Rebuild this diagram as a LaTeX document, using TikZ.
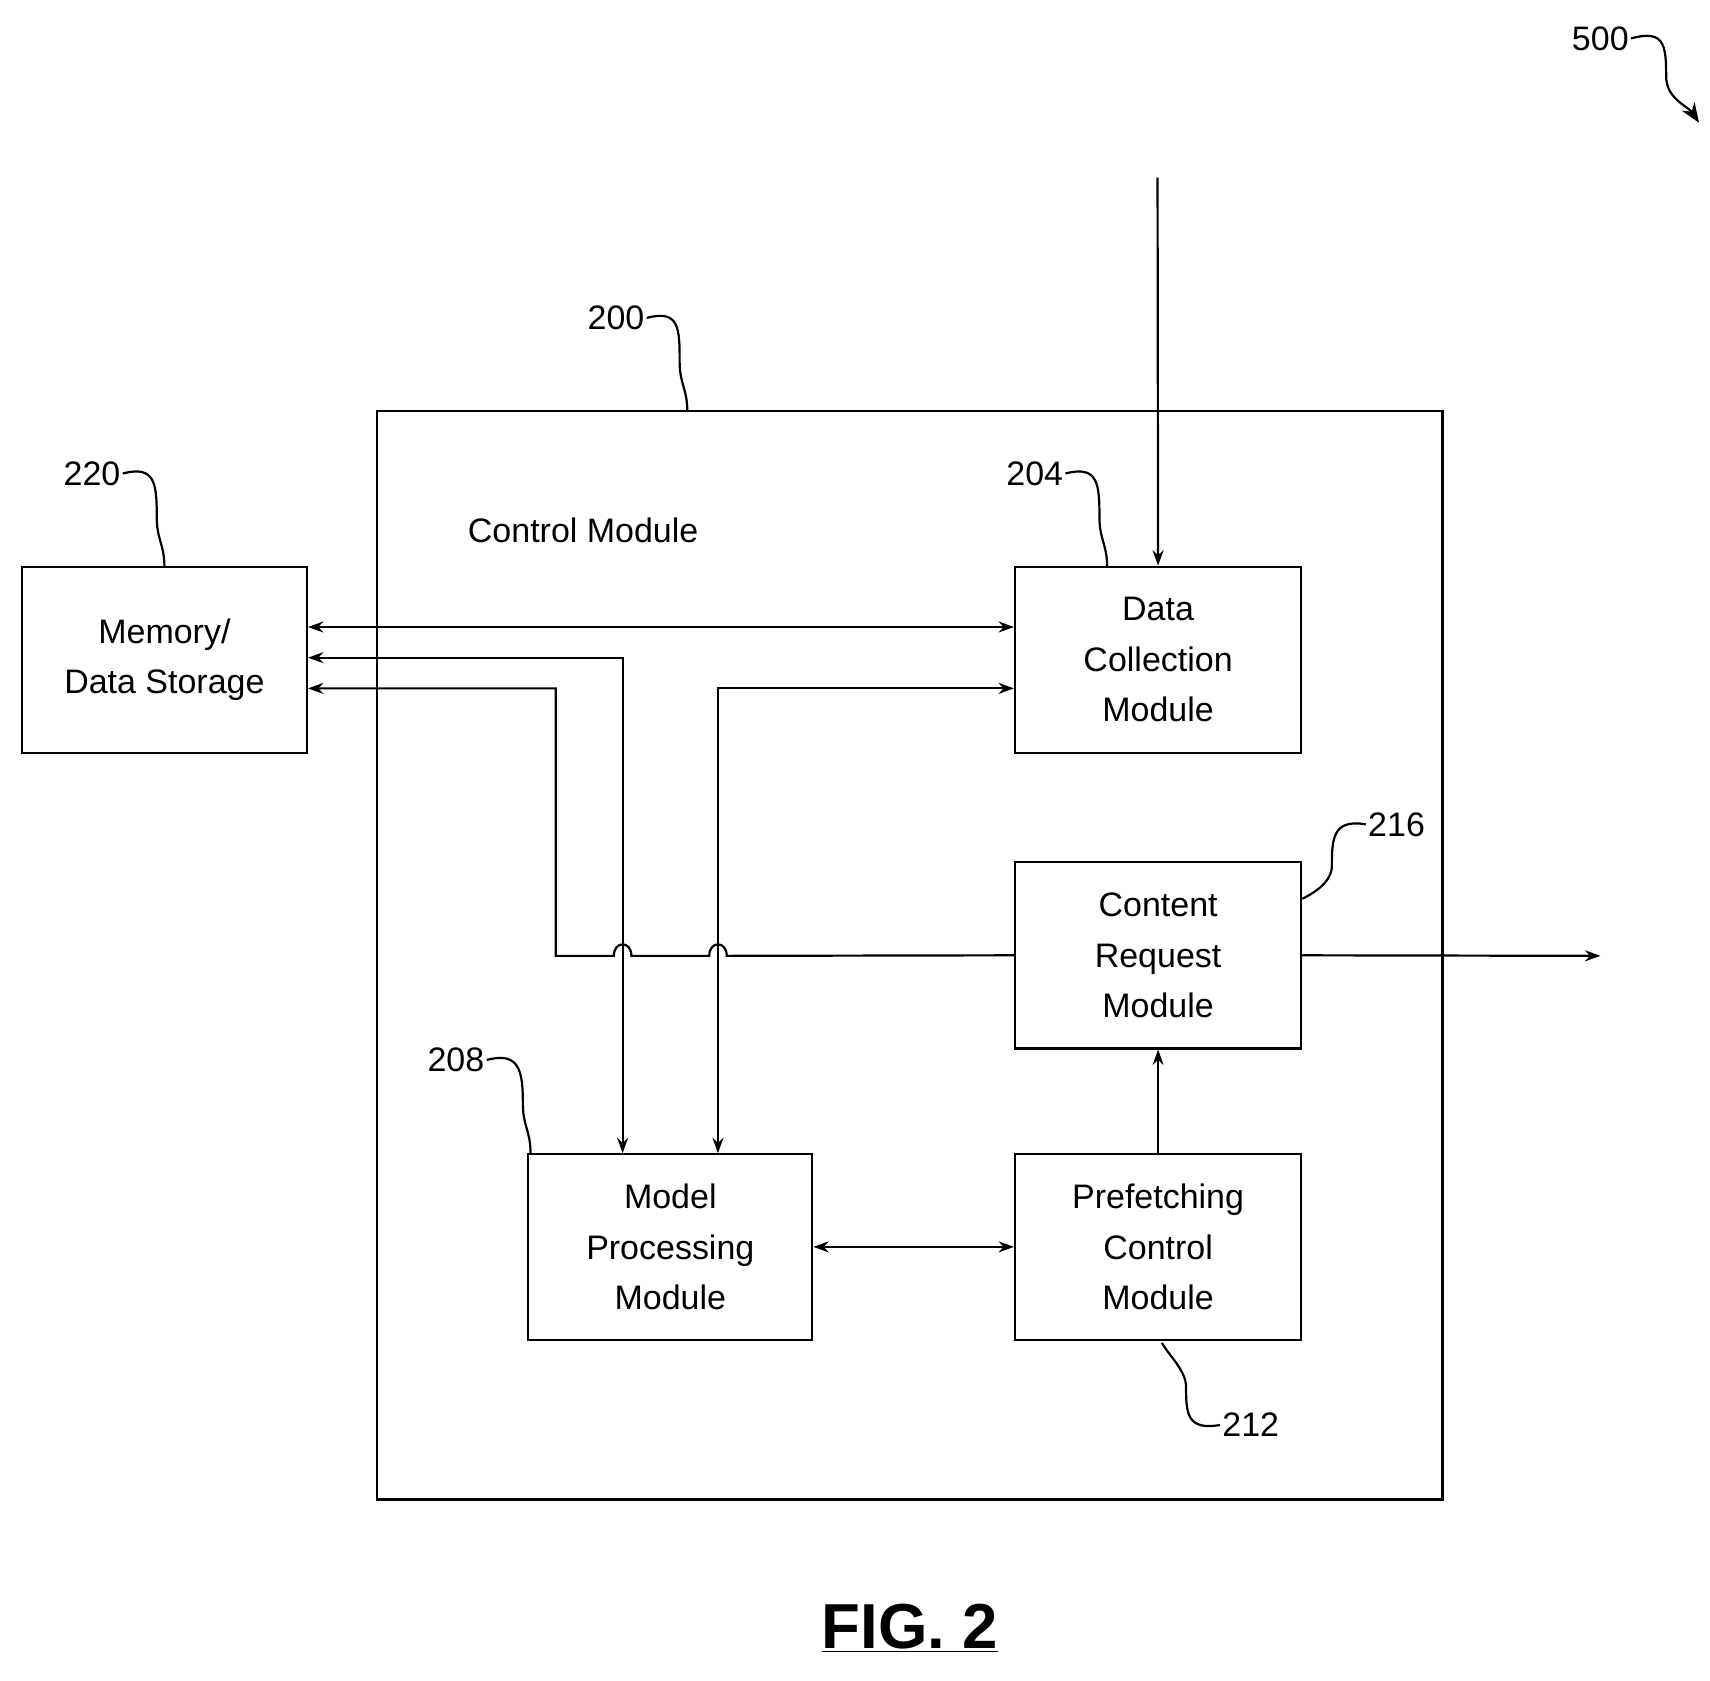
\documentclass[tikz,border=0pt]{standalone}
\usepackage{fontspec}
\setmainfont{Liberation Sans}
\usetikzlibrary{arrows.meta,calc}
\begin{document}
\begin{tikzpicture}[x=1pt,y=-1pt,
  box/.style={draw,line width=2pt,minimum width=261pt,minimum height=170pt,align=center,font=\fontsize{31}{46}\selectfont,inner sep=0pt},
  ln/.style={line width=2pt},
  ar/.style={ln,-{Stealth[length=14pt,width=10pt]}},
  dar/.style={ln,{Stealth[length=14pt,width=10pt]}-{Stealth[length=14pt,width=10pt]}},
  lbl/.style={font=\fontsize{31}{36}\selectfont,inner sep=2pt},
  sq/.style={ln}]
\useasboundingbox (0,0) rectangle (1560,1533);
\node[draw,line width=2pt,minimum width=972pt,minimum height=993pt,inner sep=0pt] (cm) at (830,871.5) {};
\node[lbl] at (532,484) {Control Module};
\node[box,minimum width=260pt] (mem) at (150,602) {Memory/\\Data Storage};
\node[box] (dc) at (1056.5,602) {Data\\Collection\\Module};
\node[box] (cr) at (1056.5,871.5) {Content\\Request\\Module};
\node[box,minimum width=259pt] (mp) at (611.5,1137.5) {Model\\Processing\\Module};
\node[box] (pf) at (1056.5,1137.5) {Prefetching\\Control\\Module};
% connectors
\coordinate (in) at (1056,162);
\draw[ar] (in) -- (dc.north);
\coordinate (out) at (1460,872);
\draw[ar] (cr.east) -- (out);
\draw[ar] (pf.north) -- (cr.south);
\draw[dar] (mp.east) -- (pf.west);
\draw[dar] (mem.east |- 0,572) -- (dc.west |- 0,572);
\draw[dar] (mem.east |- 0,600) -- (568,600) -- (568,1052);
\draw[dar] (dc.west |- 0,628) -- (655,628) -- (655,1052);
\draw[ln,{Stealth[length=14pt,width=10pt]}-] (mem.east |- 0,628) -- (507,628) -- (507,872) -- (560,872)
  .. controls (560,858) and (576,858) .. (576,872) -- (647,872)
  .. controls (647,858) and (663,858) .. (663,872) -- (cr.west);
% labels
\node[lbl,anchor=east] (l200) at (590,290) {200};
\draw[sq] (l200.east) .. controls +(30,-8) and +(0,-30) .. (620,330) .. controls +(0,20) and +(0,-20) .. (627,375);
\node[lbl,anchor=east] (l220) at (112,432) {220};
\draw[sq] (l220.east) .. controls +(30,-8) and +(0,-30) .. (143,472) .. controls +(0,20) and +(0,-20) .. (150,517);
\node[lbl,anchor=east] (l204) at (972,432) {204};
\draw[sq] (l204.east) .. controls +(30,-8) and +(0,-30) .. (1003,472) .. controls +(0,20) and +(0,-20) .. (1010,517);
\node[lbl,anchor=east] (l208) at (444,967) {208};
\draw[sq] (l208.east) .. controls +(30,-8) and +(0,-30) .. (477,1007) .. controls +(0,20) and +(0,-20) .. (484,1052);
\node[lbl,anchor=west] (l216) at (1246,752) {216};
\draw[sq] (l216.west) .. controls +(-30,-5) and +(0,-25) .. (1215,790) .. controls +(0,15) and +(10,-5) .. (1188,820);
\node[lbl,anchor=west] (l212) at (1113,1300) {212};
\draw[sq] (l212.west) .. controls +(-30,5) and +(0,25) .. (1082,1265) .. controls +(0,-15) and +(5,10) .. (1060,1225);
\node[lbl,anchor=east] (l500) at (1488,35) {500};
\coordinate (t500) at (1550,112);
\draw[ln,-{Stealth[length=18pt,width=14pt]}] (l500.east) .. controls +(30,-8) and +(0,-30) .. (1520,70) .. controls +(0,20) and +(-10,-15) .. (t500);
\node[font=\bfseries\fontsize{58}{64}\selectfont] at (830,1485) {\underline{FIG. 2}};
\end{tikzpicture}
\end{document}
